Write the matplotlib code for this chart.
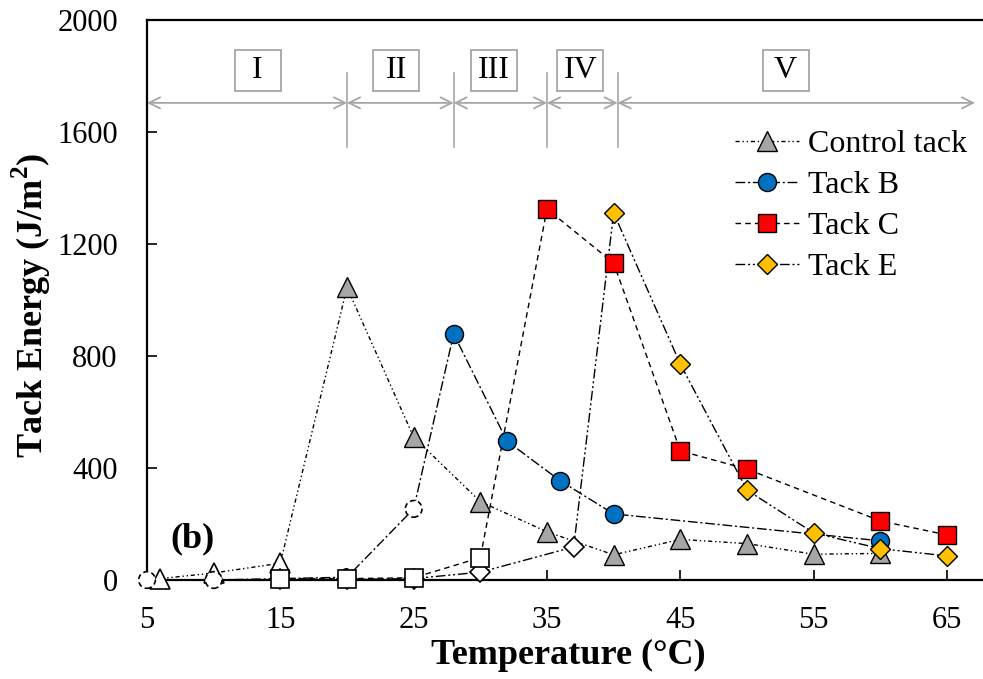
import matplotlib.pyplot as plt
from matplotlib.lines import Line2D
from matplotlib.patches import Rectangle

plt.rcParams['font.family'] = ['Liberation Serif', 'DejaVu Serif']
plt.rcParams['mathtext.fontset'] = 'custom'
plt.rcParams['mathtext.rm'] = 'Liberation Serif'
plt.rcParams['mathtext.bf'] = 'Liberation Serif:bold'

# tack energy (J/m2) vs temperature (C)
control_t = [6, 10, 15, 20, 25, 30, 35, 40, 45, 50, 55, 60]
control_e = [5, 25, 60, 1045, 510, 280, 172, 90, 145, 130, 92, 95]
tack_b_t = [5, 10, 15, 20, 25, 28, 32, 36, 40, 60]
tack_b_e = [0, 0, 5, 10, 254, 879, 496, 354, 236, 140]
tack_c_t = [15, 20, 25, 30, 35, 40, 45, 50, 60, 65]
tack_c_e = [5, 5, 8, 80, 1325, 1132, 461, 396, 211, 161]
tack_e_t = [15, 20, 25, 30, 37, 40, 45, 50, 55, 60, 65]
tack_e_e = [2, 2, 5, 28, 118, 1311, 771, 321, 168, 112, 86]

# how many of the first points are drawn open
control_open = 3
tack_b_open = 5
tack_c_open = 4
tack_e_open = 5

regions = ["I", "II", "III", "IV", "V"]
region_edges = [5, 20, 28, 35, 40.3, 67.1]
region_label_x = [13.3, 23.7, 31.0, 37.5, 52.9]

fig = plt.figure(figsize=(9.83, 6.79), dpi=100)
ax = fig.add_axes([147 / 983, 1 - 580 / 679, 836 / 983, 560 / 679])


def draw(t, e, n_open, color, marker, ms, ls, label, dashed_open=False):
    ax.plot(t, e, color='black', lw=1.0, ls=ls, zorder=2)
    if dashed_open:
        ax.scatter(t[:n_open], e[:n_open], s=(ms - 1) ** 2, marker=marker, facecolors='white',
                   edgecolors='black', linewidths=1.2, linestyles=(0, (3, 2)), zorder=3, clip_on=False)
    else:
        ax.plot(t[:n_open], e[:n_open], ls='none', marker=marker, ms=ms,
                mfc='white', mec='black', mew=1.2, zorder=3, clip_on=False)
    ax.plot(t[n_open:], e[n_open:], ls='none', marker=marker, ms=ms,
            mfc=color, mec='black', mew=1.0, zorder=3, clip_on=False)
    return Line2D([], [], color='black', lw=1.0, ls=ls, marker=marker, ms=ms,
                  mfc=color, mec='black', mew=1.0, label=label)


h1 = draw(control_t, control_e, control_open, '#A6A6A6', '^', 14, (0, (3, 2, 1, 2, 1, 2)), 'Control tack')
h2 = draw(tack_b_t, tack_b_e, tack_b_open, '#0070C0', 'o', 13, (0, (7, 2, 1.5, 2)), 'Tack B', True)
h4 = draw(tack_e_t, tack_e_e, tack_e_open, '#FFC000', 'D', 10, (0, (7, 2, 1.5, 2, 1.5, 2)), 'Tack E')
h3 = draw(tack_c_t, tack_c_e, tack_c_open, '#FF0000', 's', 13, (0, (4, 3)), 'Tack C')

ax.set_xlim(5, 67.7)
ax.set_ylim(0, 2000)
ax.set_xticks(range(5, 66, 10))
ax.set_yticks(range(0, 2001, 400))
ax.tick_params(direction='in', length=7, width=1.2, labelsize=22)
ax.tick_params(axis='y', pad=21)
ax.tick_params(axis='x', pad=19)
ax.spines['right'].set_visible(False)
for s in ['left', 'bottom', 'top']:
    ax.spines[s].set_linewidth(1.6)

ax.set_xlabel('Temperature (°C)', fontsize=26, fontweight='bold', va='center')
ax.xaxis.set_label_coords(0.504, -75 / 560)
ax.set_ylabel(r'Tack Energy (J/m$^\mathbf{2}$)', fontsize=26, fontweight='bold', va='center', ha='center')
ax.yaxis.set_label_coords(-116 / 836, 275 / 560)

# temperature regions
gray = '#A6A6A6'
box_w = 46 / 13.33
box_h = 41 / 0.28
for i in range(len(regions)):
    ax.annotate('', xy=(region_edges[i + 1], 1704), xytext=(region_edges[i], 1704),
                arrowprops=dict(arrowstyle='<->', color=gray, lw=1.3,
                                shrinkA=0, shrinkB=0, mutation_scale=20))
    ax.add_patch(Rectangle((region_label_x[i] - box_w / 2, 1818 - box_h / 2), box_w, box_h,
                           fc='white', ec=gray, lw=1.3, zorder=4))
    ax.text(region_label_x[i], 1818, regions[i], fontsize=23, ha='center', va='center', zorder=5)
for x in region_edges[1:-1]:
    ax.plot([x, x], [1546, 1811], color=gray, lw=1.2)

ax.text(8.4, 146, '(b)', fontsize=26, fontweight='bold', ha='center', va='center')

ax.legend(handles=[h1, h2, h3, h4], loc='upper left', bbox_to_anchor=(706 / 983, 1 - 101 / 679),
          bbox_transform=fig.transFigure, frameon=False, fontsize=23,
          handlelength=2.0, labelspacing=0.36, handletextpad=0.3)

fig.savefig('out.png', dpi=100)
